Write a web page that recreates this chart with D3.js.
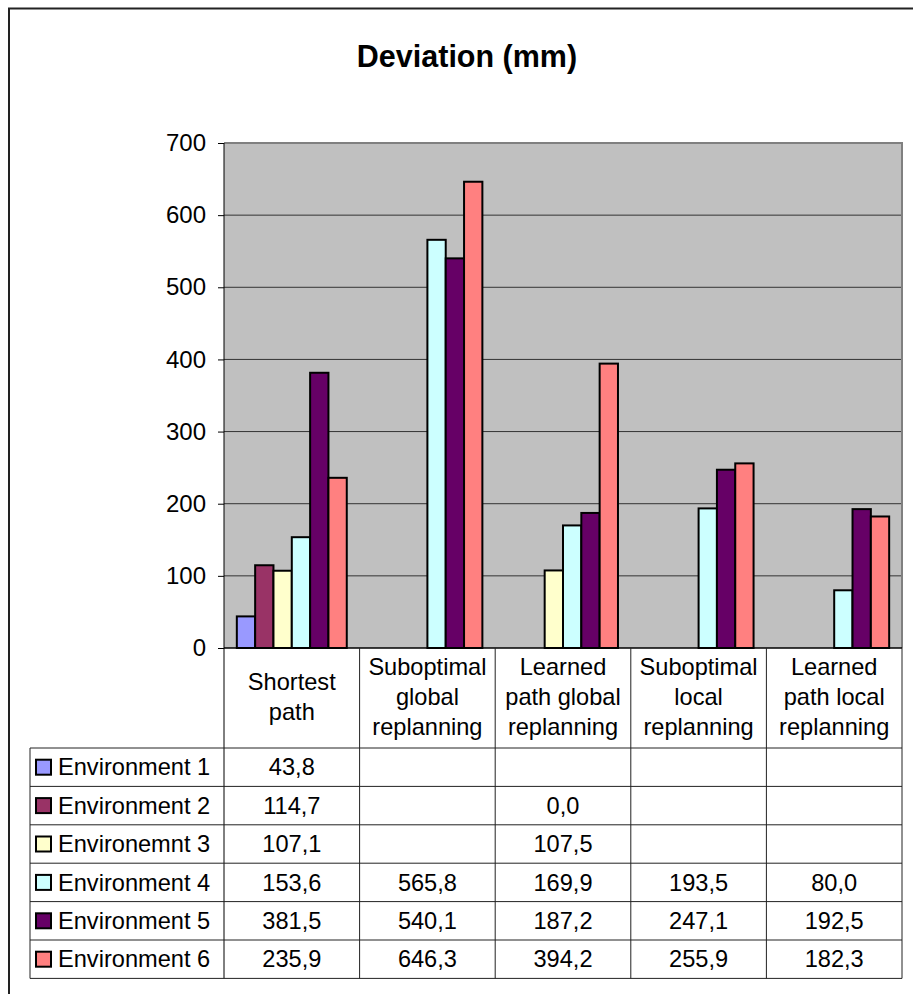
<!DOCTYPE html>
<html>
<head>
<meta charset="utf-8">
<script src="https://cdnjs.cloudflare.com/ajax/libs/d3/7.8.5/d3.min.js"></script>
<style>
  body { margin: 0; background: #fff; }
  svg { display: block; font-family: "Liberation Sans", Arial, sans-serif; }
</style>
</head>
<body>
<svg id="chart"></svg>
<script>
// categories (label lines as shown in the table header)
const categories = ["Shortest path", "Suboptimal global replanning", "Learned path global replanning",
                    "Suboptimal local replanning", "Learned path local replanning"];
const categoryLines = [["Shortest", "path"], ["Suboptimal", "global", "replanning"],
                       ["Learned", "path global", "replanning"], ["Suboptimal", "local", "replanning"],
                       ["Learned", "path local", "replanning"]];

// series names and colours
const seriesNames = ["Environment 1", "Environment 2", "Environemnt 3", "Environment 4", "Environment 5", "Environment 6"];
const seriesColors = ["#9999ff", "#993366", "#ffffcc", "#ccffff", "#660066", "#ff8080"];

// values per series (null = empty cell)
const env1 = [43.8, null, null, null, null];
const env2 = [114.7, null, 0.0, null, null];
const env3 = [107.1, null, 107.5, null, null];
const env4 = [153.6, 565.8, 169.9, 193.5, 80.0];
const env5 = [381.5, 540.1, 187.2, 247.1, 192.5];
const env6 = [235.9, 646.3, 394.2, 255.9, 182.3];
const seriesValues = [env1, env2, env3, env4, env5, env6];

const yTicks = [0, 100, 200, 300, 400, 500, 600, 700];

const W = 913, H = 994;
const plot = {left: 224, right: 902, top: 143, bottom: 648};
const table = {left: 30, headerBottom: 748, rowH: 38.4};
const fontSize = 23.6;

const svg = d3.select("#chart").attr("width", W).attr("height", H);

// outer chart border
svg.append("rect")
    .attr("x", 9).attr("y", 8.5)
    .attr("width", 1000).attr("height", 1100)
    .attr("fill", "#fff").attr("stroke", "#222").attr("stroke-width", 2);

// title
svg.append("text")
    .attr("x", 467).attr("y", 67)
    .attr("text-anchor", "middle")
    .attr("font-size", 30.5).attr("font-weight", "bold")
    .text("Deviation (mm)");

// scales
const x = d3.scaleBand().domain(categories).range([plot.left, plot.right]);
const xs = d3.scaleBand().domain(seriesNames).range([0, x.bandwidth()]).paddingOuter(0.7);
const y = d3.scaleLinear().domain([0, 700]).range([plot.bottom, plot.top]);

// plot background
svg.append("rect")
    .attr("x", plot.left).attr("y", plot.top)
    .attr("width", plot.right - plot.left).attr("height", plot.bottom - plot.top)
    .attr("fill", "#c0c0c0");

// gridlines
svg.append("g").selectAll("line")
    .data(yTicks.filter(d => d > 0 && d < 700))
    .join("line")
    .attr("x1", plot.left).attr("x2", plot.right)
    .attr("y1", d => y(d)).attr("y2", d => y(d))
    .attr("stroke", "#333").attr("stroke-width", 1);

// plot border top/right
svg.append("path")
    .attr("d", `M${plot.left},${plot.top}H${plot.right}V${plot.bottom}`)
    .attr("fill", "none").attr("stroke", "#808080").attr("stroke-width", 2);

// bars
const bars = [];
seriesValues.forEach((vals, si) => {
    vals.forEach((v, ci) => {
        if (v !== null) bars.push({series: seriesNames[si], color: seriesColors[si], cat: categories[ci], value: v});
    });
});
svg.append("g").selectAll("rect")
    .data(bars)
    .join("rect")
    .attr("x", d => x(d.cat) + xs(d.series))
    .attr("y", d => y(d.value))
    .attr("width", xs.bandwidth())
    .attr("height", d => y(0) - y(d.value))
    .attr("fill", d => d.color)
    .attr("stroke", "#000").attr("stroke-width", 2);

// y axis
const yAxis = d3.axisLeft(y).tickValues(yTicks).tickSize(6).tickPadding(12).tickFormat(d3.format("d"));
const yg = svg.append("g").attr("transform", `translate(${plot.left},0)`).call(yAxis);
yg.select(".domain").remove();
yg.selectAll("line").attr("stroke", "#000");
yg.selectAll("text").attr("font-size", 24).attr("fill", "#000").attr("font-family", "Liberation Sans, Arial, sans-serif");
svg.append("line")
    .attr("x1", plot.left).attr("x2", plot.left)
    .attr("y1", plot.top).attr("y2", table.headerBottom + table.rowH * seriesNames.length)
    .attr("stroke", "#000");

// x axis baseline
svg.append("line")
    .attr("x1", plot.left).attr("x2", plot.right)
    .attr("y1", plot.bottom).attr("y2", plot.bottom)
    .attr("stroke", "#000").attr("stroke-width", 1.5);

// data table
const tableBottom = table.headerBottom + table.rowH * seriesNames.length;
const tg = svg.append("g").attr("stroke", "#222").attr("stroke-width", 1);

// column lines
tg.selectAll("line.col")
    .data(categories.slice(1).map(c => x(c)).concat([plot.right]))
    .join("line")
    .attr("class", "col")
    .attr("x1", d => d).attr("x2", d => d)
    .attr("y1", plot.bottom).attr("y2", tableBottom);
tg.append("line")
    .attr("x1", table.left).attr("x2", table.left)
    .attr("y1", table.headerBottom).attr("y2", tableBottom);

// row lines
tg.selectAll("line.row")
    .data(d3.range(seriesNames.length + 1))
    .join("line")
    .attr("class", "row")
    .attr("x1", table.left).attr("x2", plot.right)
    .attr("y1", i => table.headerBottom + i * table.rowH)
    .attr("y2", i => table.headerBottom + i * table.rowH);

// header labels
const header = svg.append("g").attr("font-size", fontSize).attr("text-anchor", "middle");
categoryLines.forEach((lines, ci) => {
    const cx = x(categories[ci]) + x.bandwidth() / 2;
    const startY = 697 - (lines.length - 1) * 15;
    lines.forEach((ln, li) => {
        header.append("text")
            .attr("x", cx).attr("y", startY + li * 30)
            .attr("dy", "0.35em")
            .text(ln);
    });
});

// legend rows
const fmt = v => v.toFixed(1).replace(".", ",");
seriesNames.forEach((name, si) => {
    const cy = table.headerBottom + si * table.rowH + table.rowH / 2;
    svg.append("rect")
        .attr("x", 36).attr("y", cy - 7.5)
        .attr("width", 15).attr("height", 15)
        .attr("fill", seriesColors[si]).attr("stroke", "#000").attr("stroke-width", 2);
    svg.append("text")
        .attr("x", 58).attr("y", cy).attr("dy", "0.35em")
        .attr("font-size", fontSize)
        .text(name);
    seriesValues[si].forEach((v, ci) => {
        if (v === null) return;
        svg.append("text")
            .attr("x", x(categories[ci]) + x.bandwidth() / 2)
            .attr("y", cy).attr("dy", "0.35em")
            .attr("text-anchor", "middle")
            .attr("font-size", fontSize)
            .text(fmt(v));
    });
});
</script>
</body>
</html>
